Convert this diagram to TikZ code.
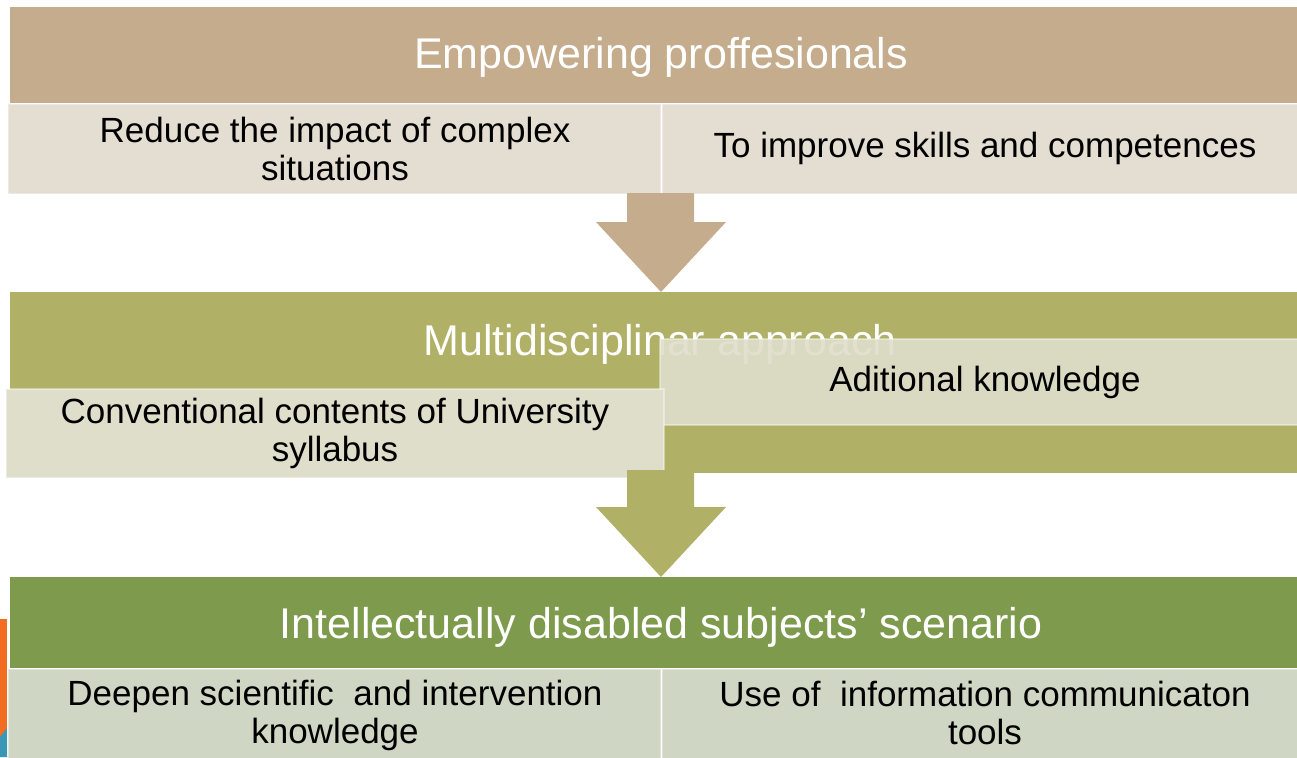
\documentclass[tikz,border=0pt]{standalone}
\usepackage{fontspec}
\setmainfont{Liberation Sans}
\definecolor{tanband}{HTML}{C4AC8C}
\definecolor{tancell}{HTML}{E4DDD1}
\definecolor{oliveband}{HTML}{B1B067}
\definecolor{olivecell}{HTML}{DFDECB}
\definecolor{greenband}{HTML}{7E9A4C}
\definecolor{greencell}{HTML}{CFD6C4}
\definecolor{stripor}{HTML}{F26C21}
\definecolor{stripbl}{HTML}{3A97B5}
\tikzset{
  band/.style={rectangle, inner sep=0pt, anchor=north west, draw=none},
  cell/.style={rectangle, inner sep=0pt, anchor=north west, draw=white, draw opacity=0.4, line width=2pt},
  celltext/.style={text=black, font=\fontsize{35}{38}\selectfont, align=center},
  titletext/.style={text=white, font=\fontsize{43}{48}\selectfont},
}
\begin{document}
\begin{tikzpicture}[x=1pt,y=-1pt]
\useasboundingbox (0,0) rectangle (1297,757);
% left decorative strip
\fill[stripor] (0,619) rectangle (7,737);
\fill[stripbl] (0,737) -- (7,728) -- (7,757) -- (0,757) -- cycle;

% ---- top section
\node[band, fill=tanband, minimum width=1287pt, minimum height=96pt] (b1) at (10,7) {};
\node[titletext] (t1) at (661,57) {Empowering proffesionals};
\node[cell, fill=tancell, minimum width=653pt, minimum height=90pt] (c11) at (7,103) {};
\node[cell, fill=tancell, minimum width=640pt, minimum height=90pt] (c12) at (661,103) {};
\node[celltext] (t11) at (335,149) {Reduce the impact of complex\\situations};
\node[celltext] (t12) at (985,148) {To improve skills and competences};

% arrow 1
\fill[tanband] (627,193) -- (694,193) -- (694,222) -- (726,222) -- (661,292) -- (596,222) -- (627,222) -- cycle;

% ---- middle section
\node[band, fill=oliveband, minimum width=1287pt, minimum height=181pt] (b2) at (10,292) {};
\node[titletext] (t2) at (660,344) {Multidisciplinar approach};
\node[cell, fill=olivecell, fill opacity=0.9, minimum width=645pt, minimum height=86pt] (c22) at (659,338) {};
\node[cell, fill=olivecell, minimum width=658pt, minimum height=89pt] (c21) at (5,388) {};
\node[celltext] (t22) at (985,382) {Aditional knowledge};
\node[celltext] (t21) at (335,433) {Conventional contents of University\\syllabus};

% arrow 2
\fill[oliveband] (627,470) -- (694,470) -- (694,507) -- (726,507) -- (661,577) -- (596,507) -- (627,507) -- cycle;

% ---- bottom section
\node[band, fill=greenband, minimum width=1287pt, minimum height=91pt] (b3) at (10,577) {};
\node[titletext] (t3) at (661,627) {Intellectually disabled subjects’ scenario};
\node[cell, fill=greencell, minimum width=653pt, minimum height=92pt] (c31) at (7,668) {};
\node[cell, fill=greencell, minimum width=640pt, minimum height=92pt] (c32) at (661,668) {};
\node[celltext] (t31) at (335,715) {Deepen scientific\ \ and intervention\\knowledge};
\node[celltext] (t32) at (985,713) {Use of\ \ information communicaton\\tools};
\end{tikzpicture}
\end{document}
